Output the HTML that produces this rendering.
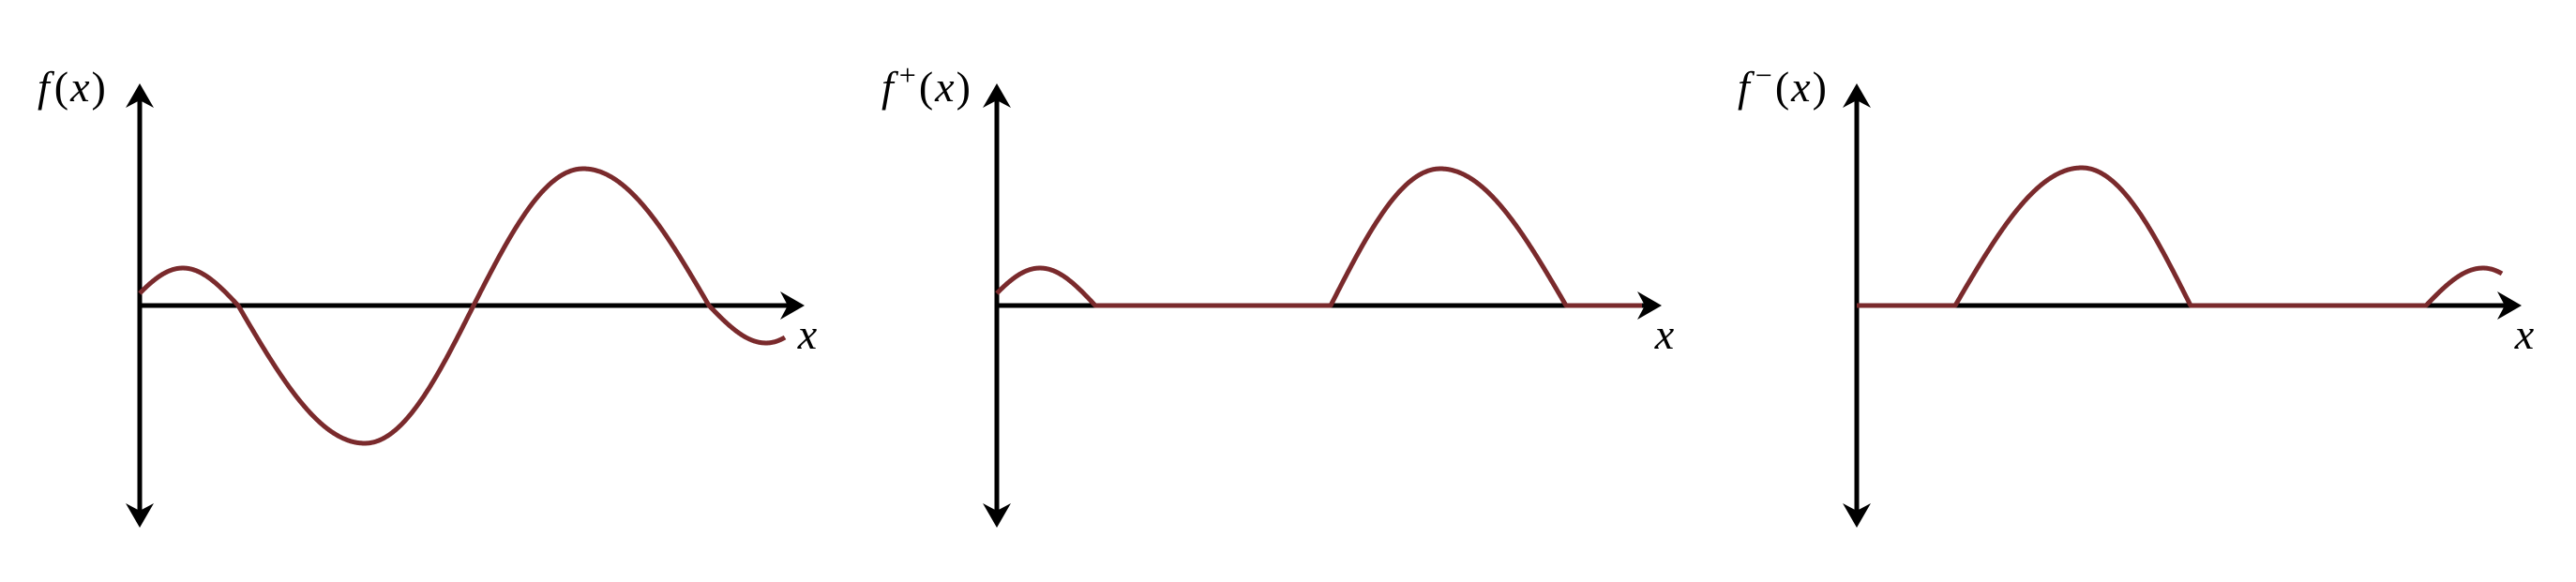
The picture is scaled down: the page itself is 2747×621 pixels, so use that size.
<!DOCTYPE html>
<html><head><meta charset="utf-8"><style>
html,body{margin:0;padding:0;background:#fff;}
svg{display:block;}
text{font-family:"Liberation Serif",serif;font-style:italic;fill:#000;}
</style></head><body>
<svg id="chart" width="2747" height="621" viewBox="0 0 2747 621">
<defs>
<path id="ah" d="M0,0 L-26,-15 L-18,0 L-26,15 Z"/>
</defs>
</svg>
<script>
// key points: x position (units), value (units)
const keyX = [0, 46, 105, 240, 356, 473, 607, 668, 688];
const keyY = [13, 40, 0, -147, 0, 146, 0, -40, -34];
const panelNames = ['f-panel', 'f-plus-panel', 'f-minus-panel'];
const panelLabels = ['f', 'f', 'f'];
const panelSup = ['', '+', '\u2212'];

const NS = 'http://www.w3.org/2000/svg';
const svg = document.getElementById('chart');
const originXs = [149, 1063, 1980];
const labelXs = [40, 940, 1853];
const originY = 326;
function sx(o, v) { return o + v; }
function sy(v) { return originY - v; }

const phases = [];
(function () {
  const ph = [];
  ph[0] = Math.asin(keyY[0] / keyY[1]);
  for (let i = 1; i < keyX.length - 1; i++) ph[i] = Math.PI / 2 * i;
  const n = keyX.length - 1;
  ph[n] = ph[n - 1] + Math.acos(keyY[n] / keyY[n - 1]);
  for (let i = 0; i < ph.length; i++) phases.push(ph[i]);
})();
function f(x) {
  let i = 0;
  while (i < keyX.length - 2 && x > keyX[i + 1]) i++;
  const t = (x - keyX[i]) / (keyX[i + 1] - keyX[i]);
  const p = phases[i] + t * (phases[i + 1] - phases[i]);
  let A;
  if (Math.abs(Math.abs(Math.sin(phases[i + 1])) - 1) < 1e-6) A = keyY[i + 1] / Math.sin(phases[i + 1]);
  else A = keyY[i] / Math.sin(phases[i]);
  return A * Math.sin(p);
}

function el(tag, attrs) { const e = document.createElementNS(NS, tag); for (const k in attrs) e.setAttribute(k, attrs[k]); return e; }

panelNames.forEach((name, pi) => {
  const o = originXs[pi];
  const g = el('g', {});
  
  
  svg.appendChild(g);
  const ya = el('line', {x1: o, y1: 96, x2: o, y2: 556, stroke: '#000', 'stroke-width': 5});
  
  
  g.appendChild(ya);
  const up = el('use', {href: '#ah', transform: `translate(${o},89) rotate(-90)`});
  
  
  g.appendChild(up);
  const dn = el('use', {href: '#ah', transform: `translate(${o},563) rotate(90)`});
  
  
  g.appendChild(dn);
  const xa = el('line', {x1: o, y1: originY, x2: o + 702, y2: originY, stroke: '#000', 'stroke-width': 5});
  
  
  g.appendChild(xa);
  const ra = el('use', {href: '#ah', transform: `translate(${o + 709},${originY})`});
  
  
  g.appendChild(ra);
  let d = '';
  const x0 = keyX[0], x1 = keyX[keyX.length - 1];
  for (let x = x0; x <= x1 + 0.001; x += 1) {
    let v = f(x);
    if (pi === 1) v = Math.max(0, v);
    if (pi === 2) v = Math.max(0, -v);
    d += (d ? 'L' : 'M') + sx(o, x).toFixed(1) + ',' + sy(v).toFixed(1);
  }
  const c = el('path', {d: d, fill: 'none', stroke: '#7a2a2c', 'stroke-width': 5, 'stroke-linejoin': 'round'});
  
  
  g.appendChild(c);
  const yl = el('text', {x: labelXs[pi], y: 108, 'font-size': 46});
  yl.innerHTML = panelLabels[pi] + (panelSup[pi] ? `<tspan dx="6" dy="-17" font-size="32" font-style="normal">${panelSup[pi]}</tspan><tspan dx="3" dy="17" font-style="normal">(</tspan>` : '<tspan dx="5" font-style="normal">(</tspan>') + '<tspan dx="2">x</tspan><tspan dx="2" font-style="normal">)</tspan>';
  
  
  g.appendChild(yl);
  const xl = el('text', {x: o + 712, y: 372, 'font-size': 46, 'text-anchor': 'middle'});
  xl.textContent = 'x';
  
  
  g.appendChild(xl);
});
</script>
</body></html>
